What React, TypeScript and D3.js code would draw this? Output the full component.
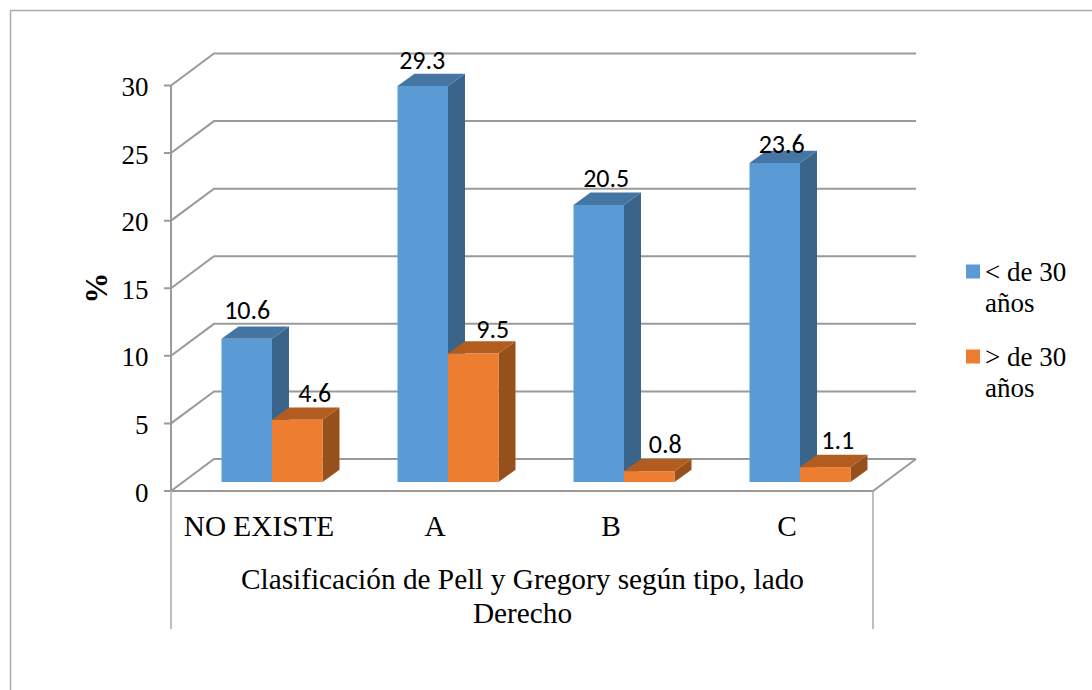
import React from "react";
import * as d3 from "d3";

const categories = ["NO EXISTE", "A", "B", "C"];
const under30 = [10.6, 29.3, 20.5, 23.6];
const over30 = [4.6, 9.5, 0.8, 1.1];
const yTicks = [0, 5, 10, 15, 20, 25, 30];
const seriesColors = [
  { front: "#5b9bd5", top: "#4575a3", side: "#3a6489" },
  { front: "#ed7d31", top: "#b25c20", side: "#95501c" },
];
// hand-tuned label nudges relative to the top of each bar, per series then category
const labelNudgeX = [[1, 0, 8, 7.5], [18, 20, 16.5, 13]];
const labelNudgeY = [[-7, -5, -6, 2], [-6, -3, -6, -5.5]];

const SERIF = "'Liberation Serif', serif";
const GRID = "#9a9a9a";
const wall = { dx: 43, dy: -32 };
const bar = { offX: 13.5, offY: -9, dx: 17, dy: -12.3, w: 50.5 };

export default function App() {
  const y = d3.scaleLinear().domain([0, 30]).range([491, 85.5]);
  const x = d3.scaleBand().domain(categories).range([170.5, 874.5]);
  const x0 = (c: string) => x(c)! + x.bandwidth() / 2 - bar.w;

  const renderBar = (c: string, i: number, v: number, s: number) => {
    const col = seriesColors[s];
    const l = x0(c) + bar.offX + s * bar.w;
    const r = l + bar.w;
    const b = y(0) + bar.offY;
    const t = y(v) + bar.offY;
    return (
      <g key={c + s}>
        <polygon points={`${r},${b} ${r + bar.dx},${b + bar.dy} ${r + bar.dx},${t + bar.dy} ${r},${t}`} fill={col.side} />
        <polygon points={`${l},${t} ${l + bar.dx},${t + bar.dy} ${r + bar.dx},${t + bar.dy} ${r},${t}`} fill={col.top} />
        <rect x={l} y={t} width={bar.w} height={b - t} fill={col.front} />
        <text
          x={l + bar.w / 2 + labelNudgeX[s][i] - 0.5}
          y={t + bar.dy + labelNudgeY[s][i]}
          textAnchor="middle"
          fontFamily="Carlito, Lato, sans-serif"
          fontSize={26}
          fill="#000"
        >
          {v.toFixed(1)}
        </text>
      </g>
    );
  };

  return (
    <svg width={1092} height={690} style={{ position: "absolute", left: 0, top: 0, background: "#fff" }}>
      <path d="M10.5,690V10.5H1092" fill="none" stroke="#ababab" strokeWidth={1.5} />
      {yTicks.map((t) => (
        <g key={t}>
          <path
            d={`M164,${y(t)}H171L${171 + wall.dx},${y(t) + wall.dy}H${873 + wall.dx}`}
            fill="none"
            stroke={GRID}
            strokeWidth={2}
          />
          <text x={148.5} y={y(t) + 10.5} textAnchor="end" fontFamily={SERIF} fontSize={27} fill="#000">
            {t}
          </text>
        </g>
      ))}
      <path d={`M171,${y(30)}V${y(0)}H873L${873 + wall.dx},${y(0) + wall.dy}`} fill="none" stroke={GRID} strokeWidth={2} />
      <path d={`M171,${y(0)}V629M873,${y(0)}V629`} fill="none" stroke="#ababab" strokeWidth={1.5} />
      {categories.map((c, i) => renderBar(c, i, under30[i], 0))}
      {categories.map((c, i) => renderBar(c, i, over30[i], 1))}
      {categories.map((c) => (
        <text key={c} x={x(c)! + x.bandwidth() / 2 + 0.5} y={536} textAnchor="middle" fontFamily={SERIF} fontSize={29.3} fill="#000">
          {c}
        </text>
      ))}
      <text x={522.5} y={589} textAnchor="middle" fontFamily={SERIF} fontSize={29.3} fill="#000">
        Clasificación de Pell y Gregory según tipo, lado
      </text>
      <text x={522.5} y={622.5} textAnchor="middle" fontFamily={SERIF} fontSize={29.3} fill="#000">
        Derecho
      </text>
      <text
        transform="translate(107,288) rotate(-90)"
        textAnchor="middle"
        fontFamily={SERIF}
        fontWeight="bold"
        fontSize={31}
        fill="#000"
      >
        %
      </text>
      <rect x={966} y={264.5} width={14} height={14} fill={seriesColors[0].front} />
      <text fontFamily={SERIF} fontSize={27} fill="#000">
        <tspan x={985} y={281}>&lt; de 30</tspan>
        <tspan x={985} y={312}>años</tspan>
      </text>
      <rect x={966} y={349.5} width={14} height={14} fill={seriesColors[1].front} />
      <text fontFamily={SERIF} fontSize={27} fill="#000">
        <tspan x={985} y={366}>&gt; de 30</tspan>
        <tspan x={985} y={397}>años</tspan>
      </text>
    </svg>
  );
}
